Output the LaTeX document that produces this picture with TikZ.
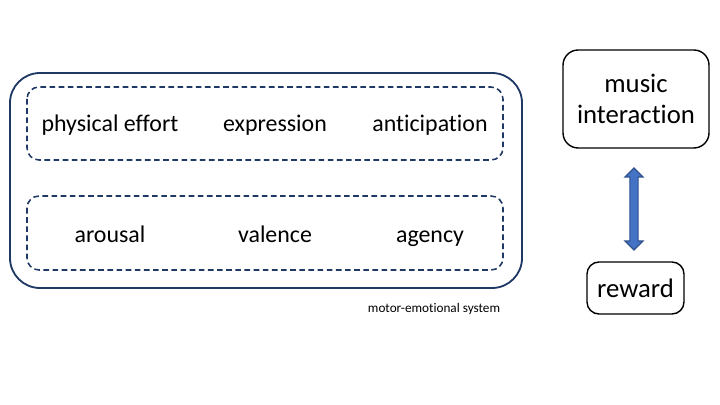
\documentclass[tikz,border=0pt]{standalone}
\usepackage{fontspec}
\setmainfont{Carlito}[Ligatures=NoCommon]
\usetikzlibrary{shapes.arrows}
\definecolor{navy}{HTML}{1F3864}
\definecolor{arrowblue}{HTML}{4472C4}
\definecolor{arrowedge}{HTML}{2F528F}
\begin{document}
\begin{tikzpicture}[x=0.025cm,y=-0.025cm]
        \useasboundingbox (0,0) rectangle (720,405);
        \tikzset{
            factor/.style={font=\fontsize{17}{20}\selectfont, text height=0.72em, text depth=0.22em},
            groupbox/.style={draw=navy, line width=1.1pt, dash pattern=on 4pt off 2.5pt, rounded corners=0.3cm},
            outcome/.style={draw=black, line width=1pt, rounded corners=0.38cm, align=center,
                font=\fontsize{19}{22}\selectfont, inner sep=0pt}
        }
        
        % Motor-emotional system
        \draw[navy, line width=1.3pt, rounded corners=0.75cm] (10,73) rectangle (522,288);
        \node[font=\fontsize{9.4}{11}\selectfont] (system) at (434,309) {motor-emotional system};
        
        % Upper group
        \draw[groupbox] (27,87) rectangle (503,160);
        \node[factor] (effort) at (110,128) {physical effort};
        \node[factor] (expression) at (275,128) {expression};
        \node[factor] (anticipation) at (430,128) {anticipation};
        
        % Lower group
        \draw[groupbox] (27,196) rectangle (503,270);
        \node[factor] (arousal) at (110,239) {arousal};
        \node[factor] (valence) at (275,239) {valence};
        \node[factor] (agency) at (430,239) {agency};
        
        % Music interaction and reward
        \node[outcome, minimum width=146*0.025cm, minimum height=98*0.025cm] (music) at (636,99) {music\\interaction};
        \node[outcome, minimum width=97*0.025cm, minimum height=52*0.025cm, rounded corners=0.3cm] (reward) at (635.5,288) {reward};
        
        % Link
        \node[double arrow, draw=arrowedge, fill=arrowblue, line width=0.8pt, rotate=90,
            minimum height=82*0.025cm, minimum width=18*0.025cm,
            double arrow head extend=0.1cm, double arrow head indent=0pt, inner sep=0.07cm]
            (link) at (634,209) {};
        
    \end{tikzpicture}
\end{document}
